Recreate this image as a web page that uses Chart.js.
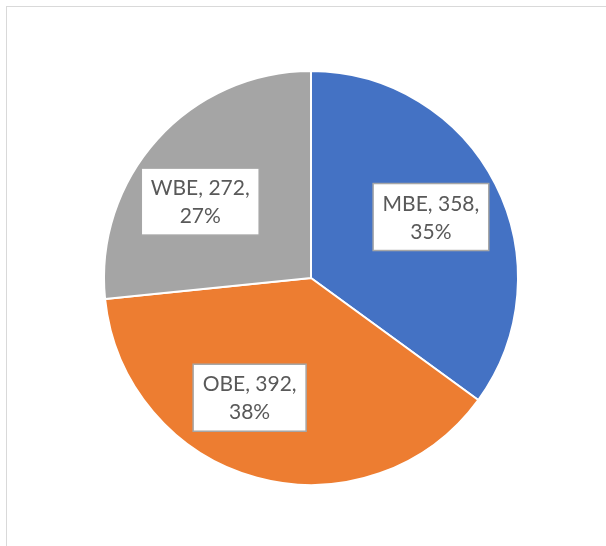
<!DOCTYPE html>
<html>
<head>
<meta charset="utf-8">
<script src="https://cdn.jsdelivr.net/npm/chart.js@4"></script>
<style>
  html, body { margin: 0; padding: 0; background: #ffffff; overflow: hidden; }
  #wrap { position: relative; width: 606px; height: 546px; }
  #frame {
    position: absolute; left: 6px; top: 6px; width: 620px; height: 560px;
    border: 1px solid #d9d9d9; box-sizing: border-box;
  }
  #chart { position: absolute; left: 0; top: 0; }
</style>
</head>
<body>
<div id="wrap">
  <div id="frame"></div>
  <canvas id="chart" width="606" height="546"></canvas>
</div>
<script>
// Data pie
const kategori = ['MBE', 'OBE', 'WBE'];
const nilai = [358, 392, 272];
const persen = ['35%', '38%', '27%'];
const warna = ['#4472C4', '#ED7D31', '#A5A5A5'];

// Plugin label kotak ala Excel (best fit)
const labelBoxPlugin = {
  id: 'labelBox',
  afterDatasetsDraw(chart, args, opts) {
    const ctx = chart.ctx;
    const meta = chart.getDatasetMeta(0);
    const geser = opts.angleShift || [];
    ctx.save();
    ctx.font = '21px Lato, "Open Sans", sans-serif';
    ctx.textAlign = 'center';
    ctx.textBaseline = 'middle';
    meta.data.forEach((arc, i) => {
      const mid = (arc.startAngle + arc.endAngle) / 2 + (geser[i] || 0) * Math.PI / 180;
      const r = arc.outerRadius * 0.65;
      const cx = arc.x + Math.cos(mid) * r;
      const cy = arc.y + Math.sin(mid) * r;
      const lines = [kategori[i] + ', ' + nilai[i] + ',', persen[i]];
      const w = Math.max(...lines.map(t => ctx.measureText(t).width)) + 19;
      const lh = 28;
      const h = lines.length * lh + 11;
      ctx.fillStyle = '#ffffff';
      ctx.fillRect(cx - w / 2, cy - h / 2, w, h);
      ctx.strokeStyle = '#a6a6a6';
      ctx.lineWidth = 1.5;
      ctx.strokeRect(cx - w / 2, cy - h / 2, w, h);
      ctx.fillStyle = '#595959';
      lines.forEach((t, j) => {
        ctx.fillText(t, cx, cy + 1 + (j - (lines.length - 1) / 2) * lh);
      });
    });
    ctx.restore();
  }
};

new Chart(document.getElementById('chart'), {
  type: 'pie',
  data: {
    labels: kategori,
    datasets: [{
      data: nilai,
      backgroundColor: warna,
      borderColor: '#ffffff',
      borderWidth: 2
    }]
  },
  options: {
    responsive: false,
    devicePixelRatio: 1,
    animation: false,
    layout: {
      padding: { left: 103, right: 87, top: 70, bottom: 60 }
    },
    plugins: {
      legend: { display: false },
      tooltip: { enabled: false },
      labelBox: { angleShift: [0, 12, -7.5] }
    }
  },
  plugins: [labelBoxPlugin]
});
</script>
</body>
</html>
